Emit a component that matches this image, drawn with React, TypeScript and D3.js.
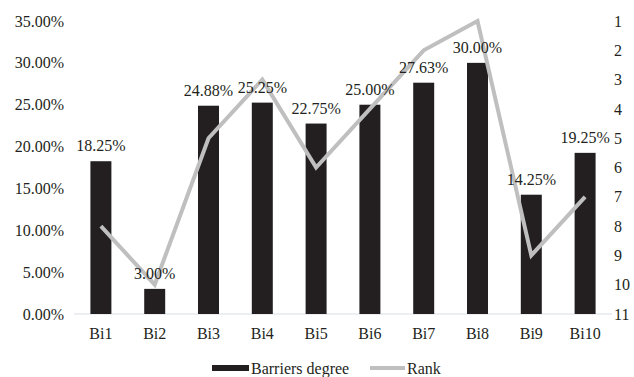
import React from "react";
import * as d3 from "d3";

const categories = ["Bi1", "Bi2", "Bi3", "Bi4", "Bi5", "Bi6", "Bi7", "Bi8", "Bi9", "Bi10"];
const barriersDegree = [0.1825, 0.03, 0.2488, 0.2525, 0.2275, 0.25, 0.2763, 0.3, 0.1425, 0.1925];
const barLabels = ["18.25%", "3.00%", "24.88%", "25.25%", "22.75%", "25.00%", "27.63%", "30.00%", "14.25%", "19.25%"];
const rank = [8, 10, 5, 3, 6, 4, 2, 1, 9, 7];
const leftTicks = [0, 0.05, 0.1, 0.15, 0.2, 0.25, 0.3, 0.35];
const rightTicks = [1, 2, 3, 4, 5, 6, 7, 8, 9, 10, 11];

const W = 634;
const H = 377;
const FONT = "Liberation Serif";
const FS = 16;
const BAR = "#231f20";
const LINE = "#bfbfbf";

export default function App() {
  const x = d3.scaleBand<string>().domain(categories).range([74, 612]).paddingInner(0.61).paddingOuter(0.305);
  const yL = d3.scaleLinear().domain([0, 0.35]).range([314, 21]);
  const yR = d3.scaleLinear().domain([1, 11]).range([21, 314]);
  const cx = (c: string) => (x(c) as number) + x.bandwidth() / 2;

  const line = d3
    .line<number>()
    .x((_, i) => cx(categories[i]))
    .y((d) => yR(d));

  const ts: React.CSSProperties = { fontFamily: FONT, fontSize: FS };

  return (
    <svg
      width={W}
      height={H}
      style={{ position: "absolute", left: 0, top: 0, background: "#fff", fontFamily: FONT, fontSize: FS }}
    >
      {leftTicks.map((t) => (
        <text key={"l" + t} x={64} y={yL(t)} dy="0.35em" textAnchor="end" fill="#231f20" style={ts}>
          {(t * 100).toFixed(2) + "%"}
        </text>
      ))}
      {rightTicks.map((t) => (
        <text key={"r" + t} x={614} y={yR(t)} dy="0.35em" textAnchor="start" fill="#231f20" style={ts}>
          {t}
        </text>
      ))}
      <line x1={74} x2={612} y1={314} y2={314} stroke="#d9dee6" strokeWidth={1} />
      {categories.map((c, i) => (
        <rect
          key={"b" + c}
          x={x(c)}
          y={yL(barriersDegree[i])}
          width={x.bandwidth()}
          height={314 - yL(barriersDegree[i])}
          fill={BAR}
        />
      ))}
      <path d={line(rank) || ""} fill="none" stroke={LINE} strokeWidth={4} strokeLinejoin="miter" />
      {categories.map((c, i) => (
        <text key={"t" + c} x={cx(c)} y={yL(barriersDegree[i]) - 10} textAnchor="middle" fill="#231f20" style={ts}>
          {barLabels[i]}
        </text>
      ))}
      {categories.map((c) => (
        <text key={"c" + c} x={cx(c)} y={333} dy="0.35em" textAnchor="middle" fill="#231f20" style={ts}>
          {c}
        </text>
      ))}
      <rect x={212} y={365} width={37} height={6} fill={BAR} />
      <text x={251} y={368} dy="0.35em" fill="#231f20" style={ts}>Barriers degree</text>
      <line x1={370} x2={405} y1={368} y2={368} stroke={LINE} strokeWidth={4} />
      <text x={407} y={368} dy="0.35em" fill="#231f20" style={ts}>Rank</text>
    </svg>
  );
}
